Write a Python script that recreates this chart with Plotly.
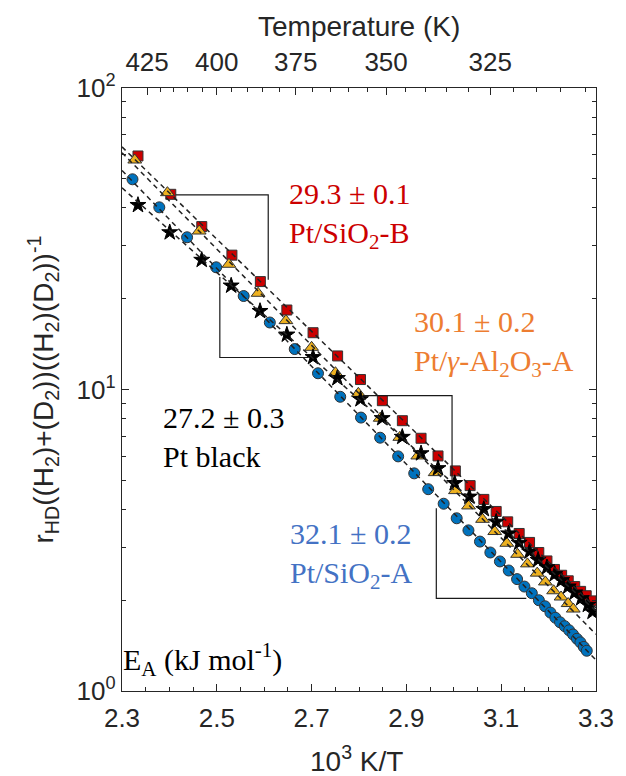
import numpy as np
import plotly.graph_objects as go

# Arrhenius data: 10^3 K/T and normalised HD formation rate
x_sio2_b = [2.3337, 2.4029, 2.4683, 2.5319, 2.5919, 2.6478, 2.7031, 2.7549, 2.8031, 2.8493,
            2.8915, 2.9309, 2.9667, 3.0033, 3.0344, 3.0634, 3.0894, 3.1137, 3.1379, 3.1598,
            3.1793, 3.1965, 3.2124, 3.2275, 3.2414, 3.2551, 3.2675, 3.2793, 3.2896]
r_sio2_b = [59.5, 44.4, 34.7, 27.9, 22.8, 18.35, 15.43, 12.92, 10.79, 9.18,
            7.88, 6.89, 6.02, 5.37, 4.80, 4.32, 3.94, 3.64, 3.33, 3.11,
            2.88, 2.70, 2.53, 2.42, 2.32, 2.22, 2.14, 2.07, 1.99]

x_al2o3_a = [2.3269, 2.3958, 2.4629, 2.5257, 2.5871, 2.6458, 2.7000, 2.7503, 2.7986, 2.8447,
             2.8861, 2.9240, 2.9607, 3.0035, 3.0311, 3.0607, 3.0864, 3.1118, 3.1346, 3.1553,
             3.1760, 3.1932, 3.2106, 3.2263, 3.2412, 3.2520]
r_al2o3_a = [57.7, 44.96, 33.55, 26.02, 20.85, 16.92, 13.80, 11.37, 9.71, 8.03,
             6.94, 6.02, 5.30, 4.62, 4.11, 3.71, 3.38, 3.09, 2.84, 2.64,
             2.46, 2.30, 2.15, 2.05, 1.95, 1.87]

x_pt_black = [2.3337, 2.4007, 2.4682, 2.5303, 2.5912, 2.6478, 2.7030, 2.7544, 2.8031, 2.8489,
              2.8913, 2.9309, 2.9667, 3.0019, 3.0329, 3.0633, 3.0894, 3.1157, 3.1379, 3.1598,
              3.1778, 3.1965, 3.2130, 3.2275, 3.2414, 3.2551, 3.2689, 3.2828, 3.2927]
r_pt_black = [40.9, 33.2, 26.9, 22.1, 18.2, 15.2, 12.8, 10.9, 9.28, 8.03,
              6.96, 6.14, 5.48, 4.89, 4.41, 4.01, 3.64, 3.33, 3.10, 2.90,
              2.72, 2.57, 2.44, 2.33, 2.22, 2.12, 2.03, 1.93, 1.83]

x_sio2_a = [2.3221, 2.3787, 2.4373, 2.4987, 2.5567, 2.6119, 2.6644, 2.7135, 2.7604, 2.8042,
            2.8446, 2.8826, 2.9165, 2.9460, 2.9786, 3.0061, 3.0309, 3.0552, 3.0771, 3.0973,
            3.1159, 3.1335, 3.1490, 3.1646, 3.1795, 3.1925, 3.2039, 3.2143, 3.2242, 3.2340,
            3.2433, 3.2516, 3.2598, 3.2671, 3.2743, 3.2805]
r_sio2_a = [49.8, 40.2, 31.98, 25.43, 20.42, 16.68, 13.62, 11.32, 9.46, 8.07,
            6.92, 6.00, 5.27, 4.67, 4.18, 3.74, 3.41, 3.13, 2.88, 2.69,
            2.51, 2.35, 2.22, 2.11, 2.00, 1.91, 1.82, 1.75, 1.69, 1.64,
            1.59, 1.54, 1.49, 1.45, 1.40, 1.36]

# Slope-triangle guides (10^3 K/T, rate) for each catalyst
guide_sio2_b_x = [2.4133, 2.6085, 2.6085]
guide_sio2_b_r = [44.2, 44.2, 23.1]
guide_al2o3_a_x = [2.808, 2.9963, 2.9963]
guide_al2o3_a_r = [9.54, 9.54, 4.89]
guide_pt_black_x = [2.5064, 2.5064, 2.6934]
guide_pt_black_r = [23.6, 12.77, 12.77]
guide_sio2_a_x = [2.9631, 2.9631, 3.153]
guide_sio2_a_r = [4.04, 2.03, 2.03]

# Activation energies (kJ/mol)
ea_sio2_b, err_sio2_b = "29.3", "0.1"
ea_al2o3_a, err_al2o3_a = "30.1", "0.2"
ea_pt_black, err_pt_black = "27.2", "0.3"
ea_sio2_a, err_sio2_a = "32.1", "0.2"

# Axis ticks
x_ticks = [2.3, 2.5, 2.7, 2.9, 3.1, 3.3]
temp_ticks = [425, 400, 375, 350, 325]
temp_minor = list(range(425, 300, -5))
y_ticks = [1, 10, 100]
y_ticktext = ["10<sup>0</sup>", "10<sup>1</sup>", "10<sup>2</sup>"]

RED = "#cc0000"
YELLOW = "#edb120"
BLUE = "#0072bd"
EDGE = "#333333"
AX = "#262626"
SANS = "Liberation Sans, Arial, sans-serif"
SERIF = "Liberation Serif, Times New Roman, serif"

fig = go.Figure()

series = [
    (x_sio2_b, r_sio2_b, "square", RED, 10),
    (x_al2o3_a, r_al2o3_a, "triangle-up", YELLOW, 12),
    (x_pt_black, r_pt_black, "star", "black", 12),
    (x_sio2_a, r_sio2_a, "circle", BLUE, 11),
]

# markers
for xs, rs, sym, col, size in series:
    fig.add_trace(go.Scatter(
        x=xs, y=rs, mode="markers",
        marker=dict(symbol=sym, color=col, size=size,
                    line=dict(color=EDGE if col != "black" else "black", width=1)),
        showlegend=False, hoverinfo="skip"))

# linear fits of log10(rate) vs 10^3/T, drawn across the full axis
x_fit = np.array([2.3, 3.3])
for xs, rs, _, _, _ in series:
    slope, icpt = np.polyfit(np.array(xs), np.log10(np.array(rs)), 1)
    fig.add_trace(go.Scatter(
        x=x_fit, y=10 ** (slope * x_fit + icpt), mode="lines",
        line=dict(color="#222222", width=1.5, dash="5px,4px"),
        showlegend=False, hoverinfo="skip"))

# slope-triangle guides
for gx, gr in [(guide_sio2_b_x, guide_sio2_b_r), (guide_al2o3_a_x, guide_al2o3_a_r),
               (guide_pt_black_x, guide_pt_black_r), (guide_sio2_a_x, guide_sio2_a_r)]:
    fig.add_trace(go.Scatter(x=gx, y=gr, mode="lines",
                             line=dict(color="#1a1a1a", width=1.2),
                             showlegend=False, hoverinfo="skip"))

# invisible trace anchoring the temperature axis
fig.add_trace(go.Scatter(x=[2.3, 3.3], y=[1, 1], xaxis="x2", mode="markers",
                         marker=dict(opacity=0), showlegend=False, hoverinfo="skip"))

W, H = 626, 776
L, R, T, B = 122, 21, 88, 85
PW, PH = W - L - R, H - T - B


def px(xp):
    return (xp - L) / PW


def py(yp):
    return (H - B - yp) / PH


def label(text, xp, yp, color, size=30):
    fig.add_annotation(text=text, x=px(xp), y=py(yp), xref="paper", yref="paper",
                       xanchor="left", yanchor="middle", align="left", showarrow=False,
                       font=dict(family=SERIF, size=size, color=color))


label(f"{ea_sio2_b} ± {err_sio2_b}<br>Pt/SiO<sub>2</sub>-B", 290, 215, RED)
label(f"{ea_al2o3_a} ± {err_al2o3_a}<br>Pt/<i>γ</i>-Al<sub>2</sub>O<sub>3</sub>-A", 417, 343, "#ed7d31")
label(f"{ea_pt_black} ± {err_pt_black}<br>Pt black", 162, 437, "black")
label(f"{ea_sio2_a} ± {err_sio2_a}<br>Pt/SiO<sub>2</sub>-A", 291, 555, "#4472c4")
label("E<sub>A</sub> (kJ mol<sup>-1</sup>)", 121, 659, "black", 30)

# axis titles
fig.add_annotation(text="Temperature (K)", x=px(363), y=py(27), xref="paper", yref="paper",
                   xanchor="center", yanchor="middle", showarrow=False,
                   font=dict(family=SANS, size=28, color=AX))
fig.add_annotation(text="10<sup>3</sup> K/T", x=px(361), y=py(759), xref="paper", yref="paper",
                   xanchor="center", yanchor="middle", showarrow=False,
                   font=dict(family=SANS, size=28, color=AX))
fig.add_annotation(text="r<sub>HD</sub>((H<sub>2</sub>)+(D<sub>2</sub>))((H<sub>2</sub>)(D<sub>2</sub>))<sup>-1</sup>",
                   x=px(42), y=py(389), xref="paper", yref="paper", textangle=-90,
                   xanchor="center", yanchor="middle", showarrow=False,
                   font=dict(family=SANS, size=28, color=AX))

axis_common = dict(showline=True, linecolor=AX, linewidth=1.3, showgrid=False,
                   zeroline=False, ticks="inside", tickcolor=AX, ticklen=7, tickwidth=1.2,
                   tickfont=dict(family=SANS, size=26, color=AX))

fig.update_layout(
    width=W, height=H,
    margin=dict(l=L, r=R, t=T, b=B),
    paper_bgcolor="white", plot_bgcolor="white",
    xaxis=dict(range=[2.3, 3.3], tickmode="array", tickvals=x_ticks,
               ticktext=[f"{v:.1f}" for v in x_ticks], mirror=True, ticklabelstandoff=4,
               minor=dict(tickmode="array", tickvals=list(np.round(np.arange(2.3, 3.3001, 0.05), 3)),
                          ticks="inside", ticklen=4, tickcolor=AX),
               **axis_common),
    xaxis2=dict(range=[2.3, 3.3], overlaying="x", side="top", anchor="y",
                tickmode="array", tickvals=[1000 / t for t in temp_ticks],
                ticktext=[str(t) for t in temp_ticks], ticklabelstandoff=5,
                minor=dict(tickmode="array", tickvals=[1000 / t for t in temp_minor],
                           ticks="inside", ticklen=4, tickcolor=AX),
                **axis_common),
    yaxis=dict(type="log", range=[0, 2], tickmode="array", tickvals=y_ticks,
               ticktext=y_ticktext, mirror="ticks",
               minor=dict(tickmode="array",
                          tickvals=[m * d for d in (1, 10) for m in range(2, 10)],
                          ticks="inside", ticklen=4, tickcolor=AX),
               **axis_common),
)

fig.write_html("out.html")
